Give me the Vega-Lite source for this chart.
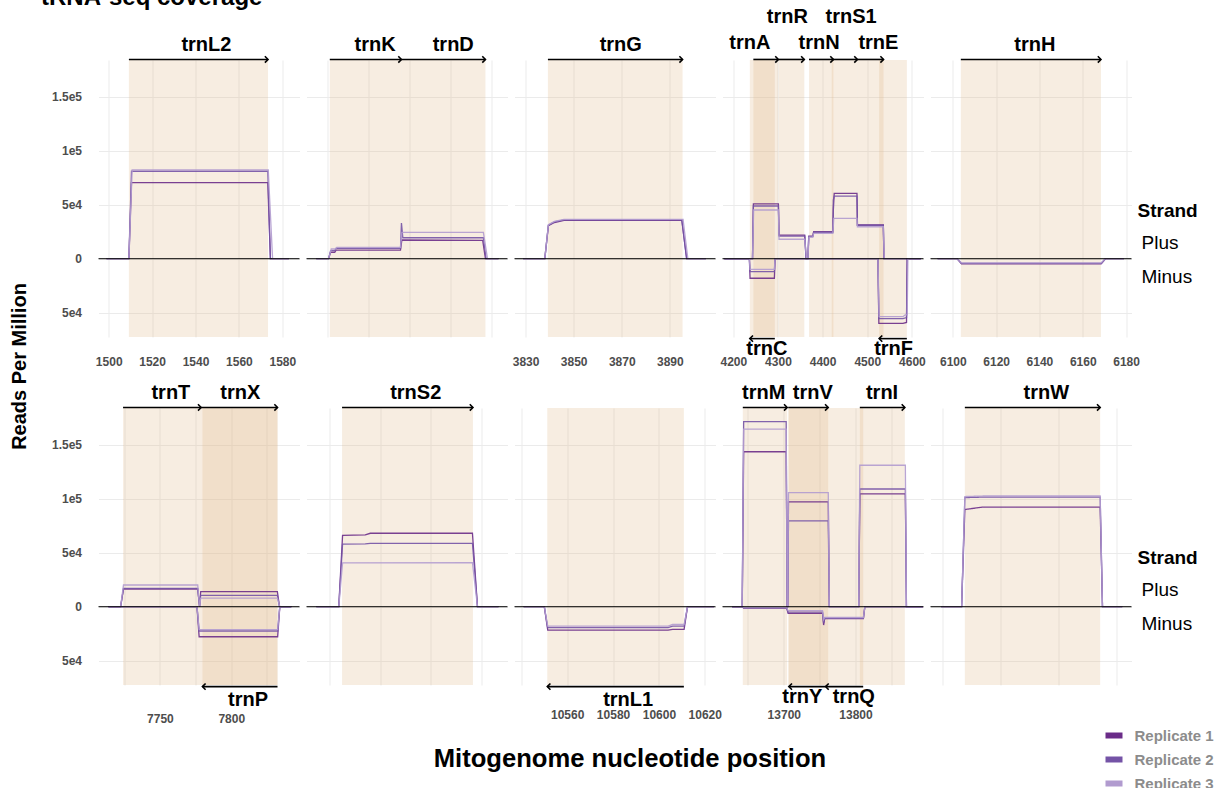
{
"$schema": "https://vega.github.io/schema/vega-lite/v6.json",
"padding": {"left": 8.5, "top": -14, "right": 2, "bottom": 0},
"title": {"text": "tRNA-seq coverage", "anchor": "start", "fontSize": 24, "fontWeight": "bold", "font": "Liberation Sans", "color": "black", "offset": -3, "dx": 32},
"config": {
 "font": "Liberation Sans",
 "view": {"stroke": null},
 "axis": {"grid": true, "gridColor": "#ebebeb", "gridWidth": 1, "ticks": false, "tickSize": 0, "domain": false, "labelFontSize": 12, "labelFontWeight": "bold", "labelColor": "#4d4d4d", "labelFont": "Liberation Sans", "labelOverlap": false, "labelFlush": false}
},
"datasets": {
"genes": [
{"p":1,"gene":"trnL2","start":1509.3,"end":1573.4,"strand":"+","tier":1,"lx":1545},
{"p":2,"gene":"trnK","start":2236.9,"end":2289.2,"strand":"+","tier":1,"lx":2270},
{"p":2,"gene":"trnD","start":2289.2,"end":2350.5,"strand":"+","tier":1,"lx":2327},
{"p":3,"gene":"trnG","start":3839.3,"end":3895.3,"strand":"+","tier":1,"lx":3869.6},
{"p":4,"gene":"trnA","start":4244.9,"end":4301,"strand":"+","tier":1,"lx":4237},
{"p":4,"gene":"trnR","start":4302,"end":4359,"strand":"+","tier":2,"lx":4321},
{"p":4,"gene":"trnN","start":4369.6,"end":4424.3,"strand":"+","tier":1,"lx":4392},
{"p":4,"gene":"trnS1","start":4420.5,"end":4478,"strand":"+","tier":2,"lx":4464},
{"p":4,"gene":"trnE","start":4478,"end":4536.5,"strand":"+","tier":1,"lx":4525},
{"p":4,"gene":"trnC","start":4237,"end":4293,"strand":"-","tier":1,"lx":4275},
{"p":4,"gene":"trnF","start":4526.6,"end":4588.7,"strand":"-","tier":1,"lx":4559},
{"p":5,"gene":"trnH","start":6103.7,"end":6168.4,"strand":"+","tier":1,"lx":6137.9},
{"p":6,"gene":"trnT","start":7724.2,"end":7778.9,"strand":"+","tier":1,"lx":7757.7},
{"p":6,"gene":"trnX","start":7778.9,"end":7832.4,"strand":"+","tier":1,"lx":7806.3},
{"p":6,"gene":"trnP","start":7779.8,"end":7832.4,"strand":"-","tier":1,"lx":7811.8},
{"p":7,"gene":"trnS2","start":9414.8,"end":9466.7,"strand":"+","tier":1,"lx":9444},
{"p":8,"gene":"trnL1","start":10551.3,"end":10610.9,"strand":"-","tier":1,"lx":10586.6},
{"p":9,"gene":"trnM","start":13642.8,"end":13704.7,"strand":"+","tier":1,"lx":13672},
{"p":9,"gene":"trnV","start":13706.1,"end":13761.9,"strand":"+","tier":1,"lx":13740.4},
{"p":9,"gene":"trnI","start":13806,"end":13868.8,"strand":"+","tier":1,"lx":13837},
{"p":9,"gene":"trnY","start":13707,"end":13758.2,"strand":"-","tier":1,"lx":13725.7},
{"p":9,"gene":"trnQ","start":13758.2,"end":13810.7,"strand":"-","tier":1,"lx":13797.6},
{"p":10,"gene":"trnW","start":14822.2,"end":14880.5,"strand":"+","tier":1,"lx":14857.3}
],
"cov": [
{"p":1,"rep":"Replicate 1","str":"Plus","pos":1499,"rpm":0},{"p":1,"rep":"Replicate 1","str":"Plus","pos":1509.3,"rpm":0},{"p":1,"rep":"Replicate 1","str":"Plus","pos":1510.5,"rpm":70400},{"p":1,"rep":"Replicate 1","str":"Plus","pos":1573.3,"rpm":70400},{"p":1,"rep":"Replicate 1","str":"Plus","pos":1574.5,"rpm":0},{"p":1,"rep":"Replicate 1","str":"Plus","pos":1583,"rpm":0},
{"p":1,"rep":"Replicate 2","str":"Plus","pos":1499,"rpm":0},{"p":1,"rep":"Replicate 2","str":"Plus","pos":1509.3,"rpm":0},{"p":1,"rep":"Replicate 2","str":"Plus","pos":1510.5,"rpm":81000},{"p":1,"rep":"Replicate 2","str":"Plus","pos":1573.3,"rpm":81000},{"p":1,"rep":"Replicate 2","str":"Plus","pos":1574.5,"rpm":0},{"p":1,"rep":"Replicate 2","str":"Plus","pos":1583,"rpm":0},
{"p":1,"rep":"Replicate 3","str":"Plus","pos":1499,"rpm":0},{"p":1,"rep":"Replicate 3","str":"Plus","pos":1509.3,"rpm":0},{"p":1,"rep":"Replicate 3","str":"Plus","pos":1510.8,"rpm":82200},{"p":1,"rep":"Replicate 3","str":"Plus","pos":1573.5,"rpm":82200},{"p":1,"rep":"Replicate 3","str":"Plus","pos":1575.5,"rpm":0},{"p":1,"rep":"Replicate 3","str":"Plus","pos":1583,"rpm":0},

{"p":2,"rep":"Replicate 1","str":"Plus","pos":2227,"rpm":0},{"p":2,"rep":"Replicate 1","str":"Plus","pos":2236,"rpm":0},{"p":2,"rep":"Replicate 1","str":"Plus","pos":2237.5,"rpm":6000},{"p":2,"rep":"Replicate 1","str":"Plus","pos":2240.5,"rpm":6000},{"p":2,"rep":"Replicate 1","str":"Plus","pos":2241.5,"rpm":8000},{"p":2,"rep":"Replicate 1","str":"Plus","pos":2288.5,"rpm":8000},{"p":2,"rep":"Replicate 1","str":"Plus","pos":2289.5,"rpm":17300},{"p":2,"rep":"Replicate 1","str":"Plus","pos":2348.5,"rpm":17000},{"p":2,"rep":"Replicate 1","str":"Plus","pos":2350.5,"rpm":0},{"p":2,"rep":"Replicate 1","str":"Plus","pos":2360,"rpm":0},
{"p":2,"rep":"Replicate 2","str":"Plus","pos":2227,"rpm":0},{"p":2,"rep":"Replicate 2","str":"Plus","pos":2236,"rpm":0},{"p":2,"rep":"Replicate 2","str":"Plus","pos":2237.5,"rpm":7500},{"p":2,"rep":"Replicate 2","str":"Plus","pos":2240.5,"rpm":7500},{"p":2,"rep":"Replicate 2","str":"Plus","pos":2241.5,"rpm":9500},{"p":2,"rep":"Replicate 2","str":"Plus","pos":2288.5,"rpm":9500},{"p":2,"rep":"Replicate 2","str":"Plus","pos":2289.2,"rpm":33000},{"p":2,"rep":"Replicate 2","str":"Plus","pos":2290.2,"rpm":19400},{"p":2,"rep":"Replicate 2","str":"Plus","pos":2349,"rpm":19400},{"p":2,"rep":"Replicate 2","str":"Plus","pos":2351,"rpm":0},{"p":2,"rep":"Replicate 2","str":"Plus","pos":2360,"rpm":0},
{"p":2,"rep":"Replicate 3","str":"Plus","pos":2227,"rpm":0},{"p":2,"rep":"Replicate 3","str":"Plus","pos":2236,"rpm":0},{"p":2,"rep":"Replicate 3","str":"Plus","pos":2238,"rpm":9000},{"p":2,"rep":"Replicate 3","str":"Plus","pos":2241,"rpm":9000},{"p":2,"rep":"Replicate 3","str":"Plus","pos":2242,"rpm":10500},{"p":2,"rep":"Replicate 3","str":"Plus","pos":2288.5,"rpm":10500},{"p":2,"rep":"Replicate 3","str":"Plus","pos":2289.5,"rpm":24400},{"p":2,"rep":"Replicate 3","str":"Plus","pos":2349,"rpm":24400},{"p":2,"rep":"Replicate 3","str":"Plus","pos":2352,"rpm":0},{"p":2,"rep":"Replicate 3","str":"Plus","pos":2360,"rpm":0},

{"p":3,"rep":"Replicate 1","str":"Plus","pos":3829,"rpm":0},{"p":3,"rep":"Replicate 1","str":"Plus","pos":3838,"rpm":0},{"p":3,"rep":"Replicate 1","str":"Plus","pos":3839.5,"rpm":30500},{"p":3,"rep":"Replicate 1","str":"Plus","pos":3842,"rpm":33500},{"p":3,"rep":"Replicate 1","str":"Plus","pos":3846,"rpm":35500},{"p":3,"rep":"Replicate 1","str":"Plus","pos":3895,"rpm":35500},{"p":3,"rep":"Replicate 1","str":"Plus","pos":3897,"rpm":0},{"p":3,"rep":"Replicate 1","str":"Plus","pos":3905,"rpm":0},
{"p":3,"rep":"Replicate 2","str":"Plus","pos":3829,"rpm":0},{"p":3,"rep":"Replicate 2","str":"Plus","pos":3838,"rpm":0},{"p":3,"rep":"Replicate 2","str":"Plus","pos":3839.5,"rpm":31000},{"p":3,"rep":"Replicate 2","str":"Plus","pos":3842,"rpm":34000},{"p":3,"rep":"Replicate 2","str":"Plus","pos":3846,"rpm":36000},{"p":3,"rep":"Replicate 2","str":"Plus","pos":3895,"rpm":36000},{"p":3,"rep":"Replicate 2","str":"Plus","pos":3897,"rpm":0},{"p":3,"rep":"Replicate 2","str":"Plus","pos":3905,"rpm":0},
{"p":3,"rep":"Replicate 3","str":"Plus","pos":3829,"rpm":0},{"p":3,"rep":"Replicate 3","str":"Plus","pos":3838,"rpm":0},{"p":3,"rep":"Replicate 3","str":"Plus","pos":3839.5,"rpm":31500},{"p":3,"rep":"Replicate 3","str":"Plus","pos":3842,"rpm":34500},{"p":3,"rep":"Replicate 3","str":"Plus","pos":3846,"rpm":36400},{"p":3,"rep":"Replicate 3","str":"Plus","pos":3895.5,"rpm":36400},{"p":3,"rep":"Replicate 3","str":"Plus","pos":3897.5,"rpm":0},{"p":3,"rep":"Replicate 3","str":"Plus","pos":3905,"rpm":0},

{"p":4,"rep":"Replicate 1","str":"Plus","pos":4180,"rpm":0},{"p":4,"rep":"Replicate 1","str":"Plus","pos":4243,"rpm":0},{"p":4,"rep":"Replicate 1","str":"Plus","pos":4245,"rpm":50700},{"p":4,"rep":"Replicate 1","str":"Plus","pos":4301,"rpm":50700},{"p":4,"rep":"Replicate 1","str":"Plus","pos":4302.5,"rpm":21900},{"p":4,"rep":"Replicate 1","str":"Plus","pos":4360,"rpm":21900},{"p":4,"rep":"Replicate 1","str":"Plus","pos":4363,"rpm":0},{"p":4,"rep":"Replicate 1","str":"Plus","pos":4367,"rpm":0},{"p":4,"rep":"Replicate 1","str":"Plus","pos":4369,"rpm":21000},{"p":4,"rep":"Replicate 1","str":"Plus","pos":4378,"rpm":21000},{"p":4,"rep":"Replicate 1","str":"Plus","pos":4380,"rpm":25000},{"p":4,"rep":"Replicate 1","str":"Plus","pos":4423,"rpm":25000},{"p":4,"rep":"Replicate 1","str":"Plus","pos":4424,"rpm":45000},{"p":4,"rep":"Replicate 1","str":"Plus","pos":4426,"rpm":60500},{"p":4,"rep":"Replicate 1","str":"Plus","pos":4477,"rpm":60500},{"p":4,"rep":"Replicate 1","str":"Plus","pos":4478,"rpm":31200},{"p":4,"rep":"Replicate 1","str":"Plus","pos":4536,"rpm":31200},{"p":4,"rep":"Replicate 1","str":"Plus","pos":4537.5,"rpm":0},{"p":4,"rep":"Replicate 1","str":"Plus","pos":4620,"rpm":0},
{"p":4,"rep":"Replicate 2","str":"Plus","pos":4180,"rpm":0},{"p":4,"rep":"Replicate 2","str":"Plus","pos":4243,"rpm":0},{"p":4,"rep":"Replicate 2","str":"Plus","pos":4245,"rpm":48800},{"p":4,"rep":"Replicate 2","str":"Plus","pos":4301,"rpm":48800},{"p":4,"rep":"Replicate 2","str":"Plus","pos":4302.5,"rpm":21000},{"p":4,"rep":"Replicate 2","str":"Plus","pos":4360,"rpm":21000},{"p":4,"rep":"Replicate 2","str":"Plus","pos":4363,"rpm":0},{"p":4,"rep":"Replicate 2","str":"Plus","pos":4367,"rpm":0},{"p":4,"rep":"Replicate 2","str":"Plus","pos":4369,"rpm":20400},{"p":4,"rep":"Replicate 2","str":"Plus","pos":4378,"rpm":20400},{"p":4,"rep":"Replicate 2","str":"Plus","pos":4380,"rpm":24500},{"p":4,"rep":"Replicate 2","str":"Plus","pos":4423,"rpm":24500},{"p":4,"rep":"Replicate 2","str":"Plus","pos":4424,"rpm":54300},{"p":4,"rep":"Replicate 2","str":"Plus","pos":4426,"rpm":58000},{"p":4,"rep":"Replicate 2","str":"Plus","pos":4477,"rpm":58000},{"p":4,"rep":"Replicate 2","str":"Plus","pos":4478,"rpm":31000},{"p":4,"rep":"Replicate 2","str":"Plus","pos":4536,"rpm":31000},{"p":4,"rep":"Replicate 2","str":"Plus","pos":4537.5,"rpm":0},{"p":4,"rep":"Replicate 2","str":"Plus","pos":4620,"rpm":0},
{"p":4,"rep":"Replicate 3","str":"Plus","pos":4180,"rpm":0},{"p":4,"rep":"Replicate 3","str":"Plus","pos":4243,"rpm":0},{"p":4,"rep":"Replicate 3","str":"Plus","pos":4245.5,"rpm":45100},{"p":4,"rep":"Replicate 3","str":"Plus","pos":4301,"rpm":45100},{"p":4,"rep":"Replicate 3","str":"Plus","pos":4302.5,"rpm":18000},{"p":4,"rep":"Replicate 3","str":"Plus","pos":4360,"rpm":18000},{"p":4,"rep":"Replicate 3","str":"Plus","pos":4364,"rpm":0},{"p":4,"rep":"Replicate 3","str":"Plus","pos":4367,"rpm":0},{"p":4,"rep":"Replicate 3","str":"Plus","pos":4369.5,"rpm":20000},{"p":4,"rep":"Replicate 3","str":"Plus","pos":4378,"rpm":20000},{"p":4,"rep":"Replicate 3","str":"Plus","pos":4380,"rpm":23500},{"p":4,"rep":"Replicate 3","str":"Plus","pos":4423,"rpm":23500},{"p":4,"rep":"Replicate 3","str":"Plus","pos":4425,"rpm":37400},{"p":4,"rep":"Replicate 3","str":"Plus","pos":4477,"rpm":37400},{"p":4,"rep":"Replicate 3","str":"Plus","pos":4478,"rpm":29600},{"p":4,"rep":"Replicate 3","str":"Plus","pos":4536,"rpm":29600},{"p":4,"rep":"Replicate 3","str":"Plus","pos":4538,"rpm":0},{"p":4,"rep":"Replicate 3","str":"Plus","pos":4620,"rpm":0},
{"p":4,"rep":"Replicate 1","str":"Minus","pos":4180,"rpm":0},{"p":4,"rep":"Replicate 1","str":"Minus","pos":4236,"rpm":0},{"p":4,"rep":"Replicate 1","str":"Minus","pos":4237.5,"rpm":-18100},{"p":4,"rep":"Replicate 1","str":"Minus","pos":4292,"rpm":-18100},{"p":4,"rep":"Replicate 1","str":"Minus","pos":4293.5,"rpm":0},{"p":4,"rep":"Replicate 1","str":"Minus","pos":4524,"rpm":0},{"p":4,"rep":"Replicate 1","str":"Minus","pos":4526,"rpm":-59800},{"p":4,"rep":"Replicate 1","str":"Minus","pos":4580,"rpm":-59800},{"p":4,"rep":"Replicate 1","str":"Minus","pos":4588,"rpm":-59000},{"p":4,"rep":"Replicate 1","str":"Minus","pos":4589.5,"rpm":0},{"p":4,"rep":"Replicate 1","str":"Minus","pos":4620,"rpm":0},
{"p":4,"rep":"Replicate 2","str":"Minus","pos":4180,"rpm":0},{"p":4,"rep":"Replicate 2","str":"Minus","pos":4236,"rpm":0},{"p":4,"rep":"Replicate 2","str":"Minus","pos":4237.5,"rpm":-12000},{"p":4,"rep":"Replicate 2","str":"Minus","pos":4292,"rpm":-12000},{"p":4,"rep":"Replicate 2","str":"Minus","pos":4293.5,"rpm":0},{"p":4,"rep":"Replicate 2","str":"Minus","pos":4524,"rpm":0},{"p":4,"rep":"Replicate 2","str":"Minus","pos":4526,"rpm":-55500},{"p":4,"rep":"Replicate 2","str":"Minus","pos":4580,"rpm":-55500},{"p":4,"rep":"Replicate 2","str":"Minus","pos":4588,"rpm":-54500},{"p":4,"rep":"Replicate 2","str":"Minus","pos":4589.5,"rpm":0},{"p":4,"rep":"Replicate 2","str":"Minus","pos":4620,"rpm":0},
{"p":4,"rep":"Replicate 3","str":"Minus","pos":4180,"rpm":0},{"p":4,"rep":"Replicate 3","str":"Minus","pos":4236,"rpm":0},{"p":4,"rep":"Replicate 3","str":"Minus","pos":4237.5,"rpm":-9800},{"p":4,"rep":"Replicate 3","str":"Minus","pos":4292,"rpm":-9800},{"p":4,"rep":"Replicate 3","str":"Minus","pos":4293.5,"rpm":0},{"p":4,"rep":"Replicate 3","str":"Minus","pos":4524,"rpm":0},{"p":4,"rep":"Replicate 3","str":"Minus","pos":4526.5,"rpm":-53700},{"p":4,"rep":"Replicate 3","str":"Minus","pos":4580,"rpm":-53700},{"p":4,"rep":"Replicate 3","str":"Minus","pos":4585,"rpm":-52000},{"p":4,"rep":"Replicate 3","str":"Minus","pos":4589.5,"rpm":-52000},{"p":4,"rep":"Replicate 3","str":"Minus","pos":4591,"rpm":0},{"p":4,"rep":"Replicate 3","str":"Minus","pos":4620,"rpm":0},

{"p":5,"rep":"Replicate 1","str":"Minus","pos":6093,"rpm":0},{"p":5,"rep":"Replicate 1","str":"Minus","pos":6102,"rpm":0},{"p":5,"rep":"Replicate 1","str":"Minus","pos":6104,"rpm":-4800},{"p":5,"rep":"Replicate 1","str":"Minus","pos":6168.5,"rpm":-4800},{"p":5,"rep":"Replicate 1","str":"Minus","pos":6170.5,"rpm":0},{"p":5,"rep":"Replicate 1","str":"Minus","pos":6179,"rpm":0},
{"p":5,"rep":"Replicate 2","str":"Minus","pos":6093,"rpm":0},{"p":5,"rep":"Replicate 2","str":"Minus","pos":6102,"rpm":0},{"p":5,"rep":"Replicate 2","str":"Minus","pos":6104,"rpm":-4300},{"p":5,"rep":"Replicate 2","str":"Minus","pos":6168.5,"rpm":-4300},{"p":5,"rep":"Replicate 2","str":"Minus","pos":6170.5,"rpm":0},{"p":5,"rep":"Replicate 2","str":"Minus","pos":6179,"rpm":0},
{"p":5,"rep":"Replicate 3","str":"Minus","pos":6093,"rpm":0},{"p":5,"rep":"Replicate 3","str":"Minus","pos":6102,"rpm":0},{"p":5,"rep":"Replicate 3","str":"Minus","pos":6104,"rpm":-3800},{"p":5,"rep":"Replicate 3","str":"Minus","pos":6168.5,"rpm":-3800},{"p":5,"rep":"Replicate 3","str":"Minus","pos":6170.5,"rpm":0},{"p":5,"rep":"Replicate 3","str":"Minus","pos":6179,"rpm":0},

{"p":6,"rep":"Replicate 1","str":"Plus","pos":7714,"rpm":0},{"p":6,"rep":"Replicate 1","str":"Plus","pos":7722.5,"rpm":0},{"p":6,"rep":"Replicate 1","str":"Plus","pos":7724.5,"rpm":16400},{"p":6,"rep":"Replicate 1","str":"Plus","pos":7776.5,"rpm":16400},{"p":6,"rep":"Replicate 1","str":"Plus","pos":7777.8,"rpm":0},{"p":6,"rep":"Replicate 1","str":"Plus","pos":7778.6,"rpm":13900},{"p":6,"rep":"Replicate 1","str":"Plus","pos":7832.3,"rpm":13900},{"p":6,"rep":"Replicate 1","str":"Plus","pos":7833.8,"rpm":0},{"p":6,"rep":"Replicate 1","str":"Plus","pos":7842,"rpm":0},
{"p":6,"rep":"Replicate 2","str":"Plus","pos":7714,"rpm":0},{"p":6,"rep":"Replicate 2","str":"Plus","pos":7722.5,"rpm":0},{"p":6,"rep":"Replicate 2","str":"Plus","pos":7724.5,"rpm":17000},{"p":6,"rep":"Replicate 2","str":"Plus","pos":7776.5,"rpm":17000},{"p":6,"rep":"Replicate 2","str":"Plus","pos":7777.8,"rpm":0},{"p":6,"rep":"Replicate 2","str":"Plus","pos":7778.6,"rpm":10500},{"p":6,"rep":"Replicate 2","str":"Plus","pos":7832.3,"rpm":10500},{"p":6,"rep":"Replicate 2","str":"Plus","pos":7833.8,"rpm":0},{"p":6,"rep":"Replicate 2","str":"Plus","pos":7842,"rpm":0},
{"p":6,"rep":"Replicate 3","str":"Plus","pos":7714,"rpm":0},{"p":6,"rep":"Replicate 3","str":"Plus","pos":7722.5,"rpm":0},{"p":6,"rep":"Replicate 3","str":"Plus","pos":7724.5,"rpm":20100},{"p":6,"rep":"Replicate 3","str":"Plus","pos":7776.5,"rpm":20100},{"p":6,"rep":"Replicate 3","str":"Plus","pos":7777.8,"rpm":0},{"p":6,"rep":"Replicate 3","str":"Plus","pos":7778.6,"rpm":8000},{"p":6,"rep":"Replicate 3","str":"Plus","pos":7832.3,"rpm":8000},{"p":6,"rep":"Replicate 3","str":"Plus","pos":7834,"rpm":0},{"p":6,"rep":"Replicate 3","str":"Plus","pos":7842,"rpm":0},
{"p":6,"rep":"Replicate 1","str":"Minus","pos":7714,"rpm":0},{"p":6,"rep":"Replicate 1","str":"Minus","pos":7776,"rpm":0},{"p":6,"rep":"Replicate 1","str":"Minus","pos":7777.5,"rpm":-27800},{"p":6,"rep":"Replicate 1","str":"Minus","pos":7832.5,"rpm":-27800},{"p":6,"rep":"Replicate 1","str":"Minus","pos":7834,"rpm":0},{"p":6,"rep":"Replicate 1","str":"Minus","pos":7842,"rpm":0},
{"p":6,"rep":"Replicate 2","str":"Minus","pos":7714,"rpm":0},{"p":6,"rep":"Replicate 2","str":"Minus","pos":7776,"rpm":0},{"p":6,"rep":"Replicate 2","str":"Minus","pos":7777.5,"rpm":-22500},{"p":6,"rep":"Replicate 2","str":"Minus","pos":7832.5,"rpm":-22500},{"p":6,"rep":"Replicate 2","str":"Minus","pos":7834,"rpm":0},{"p":6,"rep":"Replicate 2","str":"Minus","pos":7842,"rpm":0},
{"p":6,"rep":"Replicate 3","str":"Minus","pos":7714,"rpm":0},{"p":6,"rep":"Replicate 3","str":"Minus","pos":7776,"rpm":0},{"p":6,"rep":"Replicate 3","str":"Minus","pos":7777.5,"rpm":-21300},{"p":6,"rep":"Replicate 3","str":"Minus","pos":7832.5,"rpm":-21300},{"p":6,"rep":"Replicate 3","str":"Minus","pos":7834,"rpm":0},{"p":6,"rep":"Replicate 3","str":"Minus","pos":7842,"rpm":0},

{"p":7,"rep":"Replicate 1","str":"Plus","pos":9404.6,"rpm":0},{"p":7,"rep":"Replicate 1","str":"Plus","pos":9413.5,"rpm":0},{"p":7,"rep":"Replicate 1","str":"Plus","pos":9415,"rpm":66000},{"p":7,"rep":"Replicate 1","str":"Plus","pos":9424,"rpm":66500},{"p":7,"rep":"Replicate 1","str":"Plus","pos":9426,"rpm":68000},{"p":7,"rep":"Replicate 1","str":"Plus","pos":9466.5,"rpm":68000},{"p":7,"rep":"Replicate 1","str":"Plus","pos":9468.5,"rpm":0},{"p":7,"rep":"Replicate 1","str":"Plus","pos":9476.8,"rpm":0},
{"p":7,"rep":"Replicate 2","str":"Plus","pos":9404.6,"rpm":0},{"p":7,"rep":"Replicate 2","str":"Plus","pos":9413.5,"rpm":0},{"p":7,"rep":"Replicate 2","str":"Plus","pos":9415,"rpm":58000},{"p":7,"rep":"Replicate 2","str":"Plus","pos":9424,"rpm":58200},{"p":7,"rep":"Replicate 2","str":"Plus","pos":9426,"rpm":58700},{"p":7,"rep":"Replicate 2","str":"Plus","pos":9466.5,"rpm":58700},{"p":7,"rep":"Replicate 2","str":"Plus","pos":9468.5,"rpm":0},{"p":7,"rep":"Replicate 2","str":"Plus","pos":9476.8,"rpm":0},
{"p":7,"rep":"Replicate 3","str":"Plus","pos":9404.6,"rpm":0},{"p":7,"rep":"Replicate 3","str":"Plus","pos":9413.5,"rpm":0},{"p":7,"rep":"Replicate 3","str":"Plus","pos":9415,"rpm":40500},{"p":7,"rep":"Replicate 3","str":"Plus","pos":9466.5,"rpm":40700},{"p":7,"rep":"Replicate 3","str":"Plus","pos":9468.5,"rpm":0},{"p":7,"rep":"Replicate 3","str":"Plus","pos":9476.8,"rpm":0},

{"p":8,"rep":"Replicate 1","str":"Minus","pos":10541,"rpm":0},{"p":8,"rep":"Replicate 1","str":"Minus","pos":10550,"rpm":0},{"p":8,"rep":"Replicate 1","str":"Minus","pos":10551.5,"rpm":-21600},{"p":8,"rep":"Replicate 1","str":"Minus","pos":10604,"rpm":-21600},{"p":8,"rep":"Replicate 1","str":"Minus","pos":10606,"rpm":-21000},{"p":8,"rep":"Replicate 1","str":"Minus","pos":10611,"rpm":-21000},{"p":8,"rep":"Replicate 1","str":"Minus","pos":10612.5,"rpm":0},{"p":8,"rep":"Replicate 1","str":"Minus","pos":10624,"rpm":0},
{"p":8,"rep":"Replicate 2","str":"Minus","pos":10541,"rpm":0},{"p":8,"rep":"Replicate 2","str":"Minus","pos":10550,"rpm":0},{"p":8,"rep":"Replicate 2","str":"Minus","pos":10551.5,"rpm":-19400},{"p":8,"rep":"Replicate 2","str":"Minus","pos":10604,"rpm":-19400},{"p":8,"rep":"Replicate 2","str":"Minus","pos":10606,"rpm":-18000},{"p":8,"rep":"Replicate 2","str":"Minus","pos":10611,"rpm":-18000},{"p":8,"rep":"Replicate 2","str":"Minus","pos":10612.5,"rpm":0},{"p":8,"rep":"Replicate 2","str":"Minus","pos":10624,"rpm":0},
{"p":8,"rep":"Replicate 3","str":"Minus","pos":10541,"rpm":0},{"p":8,"rep":"Replicate 3","str":"Minus","pos":10550,"rpm":0},{"p":8,"rep":"Replicate 3","str":"Minus","pos":10551.5,"rpm":-17900},{"p":8,"rep":"Replicate 3","str":"Minus","pos":10604,"rpm":-17900},{"p":8,"rep":"Replicate 3","str":"Minus","pos":10606,"rpm":-16500},{"p":8,"rep":"Replicate 3","str":"Minus","pos":10611,"rpm":-16500},{"p":8,"rep":"Replicate 3","str":"Minus","pos":10612.5,"rpm":0},{"p":8,"rep":"Replicate 3","str":"Minus","pos":10624,"rpm":0},

{"p":9,"rep":"Replicate 1","str":"Plus","pos":13628,"rpm":0},{"p":9,"rep":"Replicate 1","str":"Plus","pos":13642,"rpm":0},{"p":9,"rep":"Replicate 1","str":"Plus","pos":13644,"rpm":143500},{"p":9,"rep":"Replicate 1","str":"Plus","pos":13703.3,"rpm":143500},{"p":9,"rep":"Replicate 1","str":"Plus","pos":13704.7,"rpm":0},{"p":9,"rep":"Replicate 1","str":"Plus","pos":13705.5,"rpm":0},{"p":9,"rep":"Replicate 1","str":"Plus","pos":13706.5,"rpm":97000},{"p":9,"rep":"Replicate 1","str":"Plus","pos":13762,"rpm":97000},{"p":9,"rep":"Replicate 1","str":"Plus","pos":13763.5,"rpm":0},{"p":9,"rep":"Replicate 1","str":"Plus","pos":13804.5,"rpm":0},{"p":9,"rep":"Replicate 1","str":"Plus","pos":13806,"rpm":104400},{"p":9,"rep":"Replicate 1","str":"Plus","pos":13869.5,"rpm":104400},{"p":9,"rep":"Replicate 1","str":"Plus","pos":13871,"rpm":0},{"p":9,"rep":"Replicate 1","str":"Plus","pos":13894,"rpm":0},
{"p":9,"rep":"Replicate 2","str":"Plus","pos":13628,"rpm":0},{"p":9,"rep":"Replicate 2","str":"Plus","pos":13642,"rpm":0},{"p":9,"rep":"Replicate 2","str":"Plus","pos":13644,"rpm":171300},{"p":9,"rep":"Replicate 2","str":"Plus","pos":13703.3,"rpm":171300},{"p":9,"rep":"Replicate 2","str":"Plus","pos":13704.7,"rpm":0},{"p":9,"rep":"Replicate 2","str":"Plus","pos":13705.5,"rpm":0},{"p":9,"rep":"Replicate 2","str":"Plus","pos":13706.5,"rpm":79400},{"p":9,"rep":"Replicate 2","str":"Plus","pos":13762,"rpm":79400},{"p":9,"rep":"Replicate 2","str":"Plus","pos":13763.5,"rpm":0},{"p":9,"rep":"Replicate 2","str":"Plus","pos":13804.5,"rpm":0},{"p":9,"rep":"Replicate 2","str":"Plus","pos":13806,"rpm":109000},{"p":9,"rep":"Replicate 2","str":"Plus","pos":13869.5,"rpm":109000},{"p":9,"rep":"Replicate 2","str":"Plus","pos":13871,"rpm":0},{"p":9,"rep":"Replicate 2","str":"Plus","pos":13894,"rpm":0},
{"p":9,"rep":"Replicate 3","str":"Plus","pos":13628,"rpm":0},{"p":9,"rep":"Replicate 3","str":"Plus","pos":13642,"rpm":0},{"p":9,"rep":"Replicate 3","str":"Plus","pos":13644,"rpm":164500},{"p":9,"rep":"Replicate 3","str":"Plus","pos":13703.3,"rpm":164500},{"p":9,"rep":"Replicate 3","str":"Plus","pos":13704.7,"rpm":0},{"p":9,"rep":"Replicate 3","str":"Plus","pos":13705.5,"rpm":0},{"p":9,"rep":"Replicate 3","str":"Plus","pos":13706.5,"rpm":105600},{"p":9,"rep":"Replicate 3","str":"Plus","pos":13762,"rpm":105600},{"p":9,"rep":"Replicate 3","str":"Plus","pos":13763.5,"rpm":0},{"p":9,"rep":"Replicate 3","str":"Plus","pos":13804.5,"rpm":0},{"p":9,"rep":"Replicate 3","str":"Plus","pos":13806,"rpm":131000},{"p":9,"rep":"Replicate 3","str":"Plus","pos":13869.5,"rpm":131000},{"p":9,"rep":"Replicate 3","str":"Plus","pos":13871,"rpm":0},{"p":9,"rep":"Replicate 3","str":"Plus","pos":13894,"rpm":0},
{"p":9,"rep":"Replicate 1","str":"Minus","pos":13628,"rpm":0},{"p":9,"rep":"Replicate 1","str":"Minus","pos":13642,"rpm":0},{"p":9,"rep":"Replicate 1","str":"Minus","pos":13644,"rpm":-1200},{"p":9,"rep":"Replicate 1","str":"Minus","pos":13704,"rpm":-1200},{"p":9,"rep":"Replicate 1","str":"Minus","pos":13706,"rpm":-6100},{"p":9,"rep":"Replicate 1","str":"Minus","pos":13754,"rpm":-6100},{"p":9,"rep":"Replicate 1","str":"Minus","pos":13755.5,"rpm":-17000},{"p":9,"rep":"Replicate 1","str":"Minus","pos":13757,"rpm":-11000},{"p":9,"rep":"Replicate 1","str":"Minus","pos":13811,"rpm":-11000},{"p":9,"rep":"Replicate 1","str":"Minus","pos":13813,"rpm":0},{"p":9,"rep":"Replicate 1","str":"Minus","pos":13894,"rpm":0},
{"p":9,"rep":"Replicate 2","str":"Minus","pos":13628,"rpm":0},{"p":9,"rep":"Replicate 2","str":"Minus","pos":13642,"rpm":0},{"p":9,"rep":"Replicate 2","str":"Minus","pos":13644,"rpm":-1000},{"p":9,"rep":"Replicate 2","str":"Minus","pos":13704,"rpm":-1000},{"p":9,"rep":"Replicate 2","str":"Minus","pos":13706,"rpm":-5000},{"p":9,"rep":"Replicate 2","str":"Minus","pos":13754,"rpm":-5000},{"p":9,"rep":"Replicate 2","str":"Minus","pos":13755.5,"rpm":-15000},{"p":9,"rep":"Replicate 2","str":"Minus","pos":13757,"rpm":-10700},{"p":9,"rep":"Replicate 2","str":"Minus","pos":13811,"rpm":-10700},{"p":9,"rep":"Replicate 2","str":"Minus","pos":13813,"rpm":0},{"p":9,"rep":"Replicate 2","str":"Minus","pos":13894,"rpm":0},
{"p":9,"rep":"Replicate 3","str":"Minus","pos":13628,"rpm":0},{"p":9,"rep":"Replicate 3","str":"Minus","pos":13642,"rpm":0},{"p":9,"rep":"Replicate 3","str":"Minus","pos":13644,"rpm":-800},{"p":9,"rep":"Replicate 3","str":"Minus","pos":13704,"rpm":-800},{"p":9,"rep":"Replicate 3","str":"Minus","pos":13706,"rpm":-3700},{"p":9,"rep":"Replicate 3","str":"Minus","pos":13754,"rpm":-3700},{"p":9,"rep":"Replicate 3","str":"Minus","pos":13755.5,"rpm":-12000},{"p":9,"rep":"Replicate 3","str":"Minus","pos":13757,"rpm":-10000},{"p":9,"rep":"Replicate 3","str":"Minus","pos":13811,"rpm":-10000},{"p":9,"rep":"Replicate 3","str":"Minus","pos":13813,"rpm":0},{"p":9,"rep":"Replicate 3","str":"Minus","pos":13894,"rpm":0},

{"p":10,"rep":"Replicate 1","str":"Plus","pos":14812,"rpm":0},{"p":10,"rep":"Replicate 1","str":"Plus","pos":14820.8,"rpm":0},{"p":10,"rep":"Replicate 1","str":"Plus","pos":14822.2,"rpm":90000},{"p":10,"rep":"Replicate 1","str":"Plus","pos":14830,"rpm":92300},{"p":10,"rep":"Replicate 1","str":"Plus","pos":14880.5,"rpm":92300},{"p":10,"rep":"Replicate 1","str":"Plus","pos":14881.5,"rpm":0},{"p":10,"rep":"Replicate 1","str":"Plus","pos":14890,"rpm":0},
{"p":10,"rep":"Replicate 2","str":"Plus","pos":14812,"rpm":0},{"p":10,"rep":"Replicate 2","str":"Plus","pos":14820.8,"rpm":0},{"p":10,"rep":"Replicate 2","str":"Plus","pos":14822.2,"rpm":101000},{"p":10,"rep":"Replicate 2","str":"Plus","pos":14830,"rpm":101500},{"p":10,"rep":"Replicate 2","str":"Plus","pos":14880.5,"rpm":101500},{"p":10,"rep":"Replicate 2","str":"Plus","pos":14881.5,"rpm":0},{"p":10,"rep":"Replicate 2","str":"Plus","pos":14890,"rpm":0},
{"p":10,"rep":"Replicate 3","str":"Plus","pos":14812,"rpm":0},{"p":10,"rep":"Replicate 3","str":"Plus","pos":14820.8,"rpm":0},{"p":10,"rep":"Replicate 3","str":"Plus","pos":14822.2,"rpm":102000},{"p":10,"rep":"Replicate 3","str":"Plus","pos":14830,"rpm":102500},{"p":10,"rep":"Replicate 3","str":"Plus","pos":14880.5,"rpm":102500},{"p":10,"rep":"Replicate 3","str":"Plus","pos":14881.5,"rpm":0},{"p":10,"rep":"Replicate 3","str":"Plus","pos":14890,"rpm":0}
]
},
"columns": 5,
"bounds": "flush",
"spacing": {"row": 71, "column": 7},
"resolve": {"scale": {"x": "independent", "y": "independent", "color": "independent", "strokeDash": "independent"}},
"concat": [
{"width": 201, "height": 277, "layer": [
 {"data": {"name": "genes"}, "transform": [{"filter": "datum.p == 1"}], "mark": {"type": "rect", "color": "#deb887", "opacity": 0.25},
  "encoding": {"x": {"field": "start", "type": "quantitative", "title": null, "scale": {"domain": [1495.3, 1587.9], "nice": false, "zero": false}, "axis": {"values": [1500,1510,1520,1530,1540,1550,1560,1570,1580], "format": "d", "labelExpr": "datum.value % 20 == 0 ? datum.label : ''", "labelPadding": 19, "title": null}}, "x2": {"field": "end"}}},
 {"data": {"name": "cov"}, "transform": [{"filter": "datum.p == 1"}], "mark": {"type": "line", "strokeWidth": 1.3, "opacity": 0.9},
  "encoding": {"x": {"field": "pos", "type": "quantitative", "title": null}, "y": {"field": "rpm", "type": "quantitative", "title": null, "scale": {"domain": [-72500, 184000], "nice": false, "zero": false}, "axis": {"values": [-50000,-25000,0,25000,50000,75000,100000,125000,150000,175000], "labelExpr": "datum.value == 150000 ? '1.5e5' : datum.value == 100000 ? '1e5' : (datum.value == 50000 || datum.value == -50000) ? '5e4' : datum.value == 0 ? '0' : ''", "labelPadding": 17, "title": "Reads Per Million", "titleFontSize": 20, "titleFontWeight": "bold", "titleColor": "black", "titleX": -73.5, "titleY": 306, "titleAngle": -90, "titleAlign": "center", "titleBaseline": "alphabetic"}},
   "color": {"field": "rep", "type": "nominal", "scale": {"domain": ["Replicate 1","Replicate 2","Replicate 3"], "range": ["#6a2c88","#7453a6","#b19bcf"]}, "legend": null}, "detail": {"field": "str"}}},
 {"data": {"values": [{}]}, "mark": {"type": "rule", "color": "black", "strokeWidth": 1}, "encoding": {"y": {"datum": 0, "type": "quantitative"}}},
 {"data": {"name": "genes"}, "transform": [{"filter": "datum.p == 1 && datum.strand == '+'"}], "mark": {"type": "rule", "color": "black", "strokeWidth": 1.6}, "encoding": {"x": {"field": "start", "type": "quantitative"}, "x2": {"field": "end"}, "y": {"datum": 184500, "type": "quantitative"}}},
 {"data": {"name": "genes"}, "transform": [{"filter": "datum.p == 1 && datum.strand == '+'"}], "mark": {"type": "point", "shape": "M-1,-1L0,0L-1,1", "size": 40, "filled": false, "stroke": "black", "strokeWidth": 1.6, "opacity": 1}, "encoding": {"x": {"field": "end", "type": "quantitative"}, "y": {"datum": 184500, "type": "quantitative"}}},
 {"data": {"name": "genes"}, "transform": [{"filter": "datum.p == 1 && datum.strand == '+' && datum.tier == 1"}], "mark": {"type": "text", "fontSize": 20, "fontWeight": "bold", "color": "black", "baseline": "middle"}, "encoding": {"x": {"field": "lx", "type": "quantitative"}, "y": {"datum": 198000, "type": "quantitative"}, "text": {"field": "gene"}}}
]},
{"width": 201, "height": 277, "layer": [
 {"data": {"name": "genes"}, "transform": [{"filter": "datum.p == 2"}], "mark": {"type": "rect", "color": "#deb887", "opacity": 0.25},
  "encoding": {"x": {"field": "start", "type": "quantitative", "title": null, "scale": {"domain": [2219.9, 2366.6], "nice": false, "zero": false}, "axis": {"values": [2235,2250,2265,2280,2295,2310,2325,2340,2355], "format": "d", "labelExpr": "(datum.value - 2250) % 30 == 0 ? datum.label : ''", "labelPadding": 19, "title": null}}, "x2": {"field": "end"}}},
 {"data": {"name": "cov"}, "transform": [{"filter": "datum.p == 2"}], "mark": {"type": "line", "strokeWidth": 1.3, "opacity": 0.9},
  "encoding": {"x": {"field": "pos", "type": "quantitative", "title": null}, "y": {"field": "rpm", "type": "quantitative", "title": null, "scale": {"domain": [-72500, 184000], "nice": false, "zero": false}, "axis": {"values": [-50000,-25000,0,25000,50000,75000,100000,125000,150000,175000], "labels": false, "title": null}},
   "color": {"field": "rep", "type": "nominal", "scale": {"domain": ["Replicate 1","Replicate 2","Replicate 3"], "range": ["#6a2c88","#7453a6","#b19bcf"]}, "legend": null}, "detail": {"field": "str"}}},
 {"data": {"values": [{}]}, "mark": {"type": "rule", "color": "black", "strokeWidth": 1}, "encoding": {"y": {"datum": 0, "type": "quantitative"}}},
 {"data": {"name": "genes"}, "transform": [{"filter": "datum.p == 2 && datum.strand == '+'"}], "mark": {"type": "rule", "color": "black", "strokeWidth": 1.6}, "encoding": {"x": {"field": "start", "type": "quantitative"}, "x2": {"field": "end"}, "y": {"datum": 184500, "type": "quantitative"}}},
 {"data": {"name": "genes"}, "transform": [{"filter": "datum.p == 2 && datum.strand == '+'"}], "mark": {"type": "point", "shape": "M-1,-1L0,0L-1,1", "size": 40, "filled": false, "stroke": "black", "strokeWidth": 1.6, "opacity": 1}, "encoding": {"x": {"field": "end", "type": "quantitative"}, "y": {"datum": 184500, "type": "quantitative"}}},
 {"data": {"name": "genes"}, "transform": [{"filter": "datum.p == 2 && datum.strand == '+' && datum.tier == 1"}], "mark": {"type": "text", "fontSize": 20, "fontWeight": "bold", "color": "black", "baseline": "middle"}, "encoding": {"x": {"field": "lx", "type": "quantitative"}, "y": {"datum": 198000, "type": "quantitative"}, "text": {"field": "gene"}}}
]},
{"width": 201, "height": 277, "layer": [
 {"data": {"name": "genes"}, "transform": [{"filter": "datum.p == 3"}], "mark": {"type": "rect", "color": "#deb887", "opacity": 0.25},
  "encoding": {"x": {"field": "start", "type": "quantitative", "title": null, "scale": {"domain": [3825.4, 3909], "nice": false, "zero": false}, "axis": {"values": [3830,3840,3850,3860,3870,3880,3890,3900], "format": "d", "labelExpr": "(datum.value - 3830) % 20 == 0 ? datum.label : ''", "labelPadding": 19, "title": null}}, "x2": {"field": "end"}}},
 {"data": {"name": "cov"}, "transform": [{"filter": "datum.p == 3"}], "mark": {"type": "line", "strokeWidth": 1.3, "opacity": 0.9},
  "encoding": {"x": {"field": "pos", "type": "quantitative", "title": null}, "y": {"field": "rpm", "type": "quantitative", "title": null, "scale": {"domain": [-72500, 184000], "nice": false, "zero": false}, "axis": {"values": [-50000,-25000,0,25000,50000,75000,100000,125000,150000,175000], "labels": false, "title": null}},
   "color": {"field": "rep", "type": "nominal", "scale": {"domain": ["Replicate 1","Replicate 2","Replicate 3"], "range": ["#6a2c88","#7453a6","#b19bcf"]}, "legend": null}, "detail": {"field": "str"}}},
 {"data": {"values": [{}]}, "mark": {"type": "rule", "color": "black", "strokeWidth": 1}, "encoding": {"y": {"datum": 0, "type": "quantitative"}}},
 {"data": {"name": "genes"}, "transform": [{"filter": "datum.p == 3 && datum.strand == '+'"}], "mark": {"type": "rule", "color": "black", "strokeWidth": 1.6}, "encoding": {"x": {"field": "start", "type": "quantitative"}, "x2": {"field": "end"}, "y": {"datum": 184500, "type": "quantitative"}}},
 {"data": {"name": "genes"}, "transform": [{"filter": "datum.p == 3 && datum.strand == '+'"}], "mark": {"type": "point", "shape": "M-1,-1L0,0L-1,1", "size": 40, "filled": false, "stroke": "black", "strokeWidth": 1.6, "opacity": 1}, "encoding": {"x": {"field": "end", "type": "quantitative"}, "y": {"datum": 184500, "type": "quantitative"}}},
 {"data": {"name": "genes"}, "transform": [{"filter": "datum.p == 3 && datum.strand == '+' && datum.tier == 1"}], "mark": {"type": "text", "fontSize": 20, "fontWeight": "bold", "color": "black", "baseline": "middle"}, "encoding": {"x": {"field": "lx", "type": "quantitative"}, "y": {"datum": 198000, "type": "quantitative"}, "text": {"field": "gene"}}}
]},
{"width": 201, "height": 277, "layer": [
 {"data": {"name": "genes"}, "transform": [{"filter": "datum.p == 4"}], "mark": {"type": "rect", "color": "#deb887", "opacity": 0.25},
  "encoding": {"x": {"field": "start", "type": "quantitative", "title": null, "scale": {"domain": [4175.8, 4626], "nice": false, "zero": false}, "axis": {"values": [4200,4250,4300,4350,4400,4450,4500,4550,4600], "format": "d", "labelExpr": "datum.value % 100 == 0 ? datum.label : ''", "labelPadding": 19, "title": null}}, "x2": {"field": "end"}}},
 {"data": {"name": "cov"}, "transform": [{"filter": "datum.p == 4"}], "mark": {"type": "line", "strokeWidth": 1.3, "opacity": 0.9},
  "encoding": {"x": {"field": "pos", "type": "quantitative", "title": null}, "y": {"field": "rpm", "type": "quantitative", "title": null, "scale": {"domain": [-72500, 184000], "nice": false, "zero": false}, "axis": {"values": [-50000,-25000,0,25000,50000,75000,100000,125000,150000,175000], "labels": false, "title": null}},
   "color": {"field": "rep", "type": "nominal", "scale": {"domain": ["Replicate 1","Replicate 2","Replicate 3"], "range": ["#6a2c88","#7453a6","#b19bcf"]}, "legend": null}, "detail": {"field": "str"}}},
 {"data": {"values": [{}]}, "mark": {"type": "rule", "color": "black", "strokeWidth": 1}, "encoding": {"y": {"datum": 0, "type": "quantitative"}}},
 {"data": {"name": "genes"}, "transform": [{"filter": "datum.p == 4 && datum.strand == '+'"}], "mark": {"type": "rule", "color": "black", "strokeWidth": 1.6}, "encoding": {"x": {"field": "start", "type": "quantitative"}, "x2": {"field": "end"}, "y": {"datum": 184500, "type": "quantitative"}}},
 {"data": {"name": "genes"}, "transform": [{"filter": "datum.p == 4 && datum.strand == '+'"}], "mark": {"type": "point", "shape": "M-1,-1L0,0L-1,1", "size": 40, "filled": false, "stroke": "black", "strokeWidth": 1.6, "opacity": 1}, "encoding": {"x": {"field": "end", "type": "quantitative"}, "y": {"datum": 184500, "type": "quantitative"}}},
 {"data": {"name": "genes"}, "transform": [{"filter": "datum.p == 4 && datum.strand == '-'"}], "mark": {"type": "rule", "color": "black", "strokeWidth": 1.6}, "encoding": {"x": {"field": "start", "type": "quantitative"}, "x2": {"field": "end"}, "y": {"datum": -74000, "type": "quantitative"}}},
 {"data": {"name": "genes"}, "transform": [{"filter": "datum.p == 4 && datum.strand == '-'"}], "mark": {"type": "point", "shape": "M1,-1L0,0L1,1", "size": 40, "filled": false, "stroke": "black", "strokeWidth": 1.6, "opacity": 1}, "encoding": {"x": {"field": "start", "type": "quantitative"}, "y": {"datum": -74000, "type": "quantitative"}}},
 {"data": {"name": "genes"}, "transform": [{"filter": "datum.p == 4 && datum.strand == '+' && datum.tier == 1"}], "mark": {"type": "text", "fontSize": 20, "fontWeight": "bold", "color": "black", "baseline": "middle"}, "encoding": {"x": {"field": "lx", "type": "quantitative"}, "y": {"datum": 200000, "type": "quantitative"}, "text": {"field": "gene"}}},
 {"data": {"name": "genes"}, "transform": [{"filter": "datum.p == 4 && datum.strand == '+' && datum.tier == 2"}], "mark": {"type": "text", "fontSize": 20, "fontWeight": "bold", "color": "black", "baseline": "middle"}, "encoding": {"x": {"field": "lx", "type": "quantitative"}, "y": {"datum": 223500, "type": "quantitative"}, "text": {"field": "gene"}}},
 {"data": {"name": "genes"}, "transform": [{"filter": "datum.p == 4 && datum.strand == '-'"}], "mark": {"type": "text", "fontSize": 20, "fontWeight": "bold", "color": "black", "baseline": "middle"}, "encoding": {"x": {"field": "lx", "type": "quantitative"}, "y": {"datum": -83500, "type": "quantitative"}, "text": {"field": "gene"}}}
]},
{"width": 201, "height": 277, "layer": [
 {"data": {"name": "genes"}, "transform": [{"filter": "datum.p == 5"}], "mark": {"type": "rect", "color": "#deb887", "opacity": 0.25},
  "encoding": {"x": {"field": "start", "type": "quantitative", "title": null, "scale": {"domain": [6089.7, 6182.5], "nice": false, "zero": false}, "axis": {"values": [6100,6110,6120,6130,6140,6150,6160,6170,6180], "format": "d", "labelExpr": "datum.value % 20 == 0 ? datum.label : ''", "labelPadding": 19, "title": null}}, "x2": {"field": "end"}}},
 {"data": {"name": "cov"}, "transform": [{"filter": "datum.p == 5"}], "mark": {"type": "line", "strokeWidth": 1.3, "opacity": 0.9},
  "encoding": {"x": {"field": "pos", "type": "quantitative", "title": null}, "y": {"field": "rpm", "type": "quantitative", "title": null, "scale": {"domain": [-72500, 184000], "nice": false, "zero": false}, "axis": {"values": [-50000,-25000,0,25000,50000,75000,100000,125000,150000,175000], "labels": false, "title": null}},
   "color": {"field": "rep", "type": "nominal", "scale": {"domain": ["Replicate 1","Replicate 2","Replicate 3"], "range": ["#6a2c88","#7453a6","#b19bcf"]}, "legend": null}, "detail": {"field": "str"},
   "strokeDash": {"field": "str", "type": "nominal", "scale": {"domain": ["Plus","Minus"], "range": [[1,0],[1,0]]}, "legend": {"title": "Strand", "orient": "none", "legendX": 207, "legendY": 142, "titleFontSize": 19, "titleFontWeight": "bold", "titleColor": "black", "labelFontSize": 19, "labelColor": "black", "labelFontWeight": "normal", "symbolOpacity": 0, "symbolStrokeWidth": 0, "symbolSize": 0, "rowPadding": 14, "titlePadding": 12, "labelOffset": -15}}}},
 {"data": {"values": [{}]}, "mark": {"type": "rule", "color": "black", "strokeWidth": 1}, "encoding": {"y": {"datum": 0, "type": "quantitative"}}},
 {"data": {"name": "genes"}, "transform": [{"filter": "datum.p == 5 && datum.strand == '+'"}], "mark": {"type": "rule", "color": "black", "strokeWidth": 1.6}, "encoding": {"x": {"field": "start", "type": "quantitative"}, "x2": {"field": "end"}, "y": {"datum": 184500, "type": "quantitative"}}},
 {"data": {"name": "genes"}, "transform": [{"filter": "datum.p == 5 && datum.strand == '+'"}], "mark": {"type": "point", "shape": "M-1,-1L0,0L-1,1", "size": 40, "filled": false, "stroke": "black", "strokeWidth": 1.6, "opacity": 1}, "encoding": {"x": {"field": "end", "type": "quantitative"}, "y": {"datum": 184500, "type": "quantitative"}}},
 {"data": {"name": "genes"}, "transform": [{"filter": "datum.p == 5 && datum.strand == '+' && datum.tier == 1"}], "mark": {"type": "text", "fontSize": 20, "fontWeight": "bold", "color": "black", "baseline": "middle"}, "encoding": {"x": {"field": "lx", "type": "quantitative"}, "y": {"datum": 198000, "type": "quantitative"}, "text": {"field": "gene"}}}
]},
{"width": 201, "height": 277, "layer": [
 {"data": {"name": "genes"}, "transform": [{"filter": "datum.p == 6"}], "mark": {"type": "rect", "color": "#deb887", "opacity": 0.25},
  "encoding": {"x": {"field": "start", "type": "quantitative", "title": null, "scale": {"domain": [7707, 7847.8], "nice": false, "zero": false}, "axis": {"values": [7725,7750,7775,7800,7825], "format": "d", "labelExpr": "datum.value % 50 == 0 ? datum.label : ''", "labelPadding": 28, "title": null}}, "x2": {"field": "end"}}},
 {"data": {"name": "cov"}, "transform": [{"filter": "datum.p == 6"}], "mark": {"type": "line", "strokeWidth": 1.3, "opacity": 0.9},
  "encoding": {"x": {"field": "pos", "type": "quantitative", "title": null}, "y": {"field": "rpm", "type": "quantitative", "title": null, "scale": {"domain": [-72500, 184000], "nice": false, "zero": false}, "axis": {"values": [-50000,-25000,0,25000,50000,75000,100000,125000,150000,175000], "labelExpr": "datum.value == 150000 ? '1.5e5' : datum.value == 100000 ? '1e5' : (datum.value == 50000 || datum.value == -50000) ? '5e4' : datum.value == 0 ? '0' : ''", "labelPadding": 17, "title": null}},
   "color": {"field": "rep", "type": "nominal", "scale": {"domain": ["Replicate 1","Replicate 2","Replicate 3"], "range": ["#6a2c88","#7453a6","#b19bcf"]}, "legend": null}, "detail": {"field": "str"}}},
 {"data": {"values": [{}]}, "mark": {"type": "rule", "color": "black", "strokeWidth": 1}, "encoding": {"y": {"datum": 0, "type": "quantitative"}}},
 {"data": {"name": "genes"}, "transform": [{"filter": "datum.p == 6 && datum.strand == '+'"}], "mark": {"type": "rule", "color": "black", "strokeWidth": 1.6}, "encoding": {"x": {"field": "start", "type": "quantitative"}, "x2": {"field": "end"}, "y": {"datum": 184500, "type": "quantitative"}}},
 {"data": {"name": "genes"}, "transform": [{"filter": "datum.p == 6 && datum.strand == '+'"}], "mark": {"type": "point", "shape": "M-1,-1L0,0L-1,1", "size": 40, "filled": false, "stroke": "black", "strokeWidth": 1.6, "opacity": 1}, "encoding": {"x": {"field": "end", "type": "quantitative"}, "y": {"datum": 184500, "type": "quantitative"}}},
 {"data": {"name": "genes"}, "transform": [{"filter": "datum.p == 6 && datum.strand == '-'"}], "mark": {"type": "rule", "color": "black", "strokeWidth": 1.6}, "encoding": {"x": {"field": "start", "type": "quantitative"}, "x2": {"field": "end"}, "y": {"datum": -74000, "type": "quantitative"}}},
 {"data": {"name": "genes"}, "transform": [{"filter": "datum.p == 6 && datum.strand == '-'"}], "mark": {"type": "point", "shape": "M1,-1L0,0L1,1", "size": 40, "filled": false, "stroke": "black", "strokeWidth": 1.6, "opacity": 1}, "encoding": {"x": {"field": "start", "type": "quantitative"}, "y": {"datum": -74000, "type": "quantitative"}}},
 {"data": {"name": "genes"}, "transform": [{"filter": "datum.p == 6 && datum.strand == '+' && datum.tier == 1"}], "mark": {"type": "text", "fontSize": 20, "fontWeight": "bold", "color": "black", "baseline": "middle"}, "encoding": {"x": {"field": "lx", "type": "quantitative"}, "y": {"datum": 198000, "type": "quantitative"}, "text": {"field": "gene"}}},
 {"data": {"name": "genes"}, "transform": [{"filter": "datum.p == 6 && datum.strand == '-'"}], "mark": {"type": "text", "fontSize": 20, "fontWeight": "bold", "color": "black", "baseline": "middle"}, "encoding": {"x": {"field": "lx", "type": "quantitative"}, "y": {"datum": -86000, "type": "quantitative"}, "text": {"field": "gene"}}}
]},
{"width": 201, "height": 277, "layer": [
 {"data": {"name": "genes"}, "transform": [{"filter": "datum.p == 7"}], "mark": {"type": "rect", "color": "#deb887", "opacity": 0.25},
  "encoding": {"x": {"field": "start", "type": "quantitative", "title": null, "scale": {"domain": [9400.7, 9480.4], "nice": false, "zero": false}, "axis": {"values": [9410,9420,9430,9440,9450,9460,9470,9480], "format": "d", "labelExpr": "datum.value % 20 == 0 ? datum.label : ''", "labelPadding": 24, "title": null}}, "x2": {"field": "end"}}},
 {"data": {"name": "cov"}, "transform": [{"filter": "datum.p == 7"}], "mark": {"type": "line", "strokeWidth": 1.3, "opacity": 0.9},
  "encoding": {"x": {"field": "pos", "type": "quantitative", "title": null}, "y": {"field": "rpm", "type": "quantitative", "title": null, "scale": {"domain": [-72500, 184000], "nice": false, "zero": false}, "axis": {"values": [-50000,-25000,0,25000,50000,75000,100000,125000,150000,175000], "labels": false, "title": null}},
   "color": {"field": "rep", "type": "nominal", "scale": {"domain": ["Replicate 1","Replicate 2","Replicate 3"], "range": ["#6a2c88","#7453a6","#b19bcf"]}, "legend": null}, "detail": {"field": "str"}}},
 {"data": {"values": [{}]}, "mark": {"type": "rule", "color": "black", "strokeWidth": 1}, "encoding": {"y": {"datum": 0, "type": "quantitative"}}},
 {"data": {"name": "genes"}, "transform": [{"filter": "datum.p == 7 && datum.strand == '+'"}], "mark": {"type": "rule", "color": "black", "strokeWidth": 1.6}, "encoding": {"x": {"field": "start", "type": "quantitative"}, "x2": {"field": "end"}, "y": {"datum": 184500, "type": "quantitative"}}},
 {"data": {"name": "genes"}, "transform": [{"filter": "datum.p == 7 && datum.strand == '+'"}], "mark": {"type": "point", "shape": "M-1,-1L0,0L-1,1", "size": 40, "filled": false, "stroke": "black", "strokeWidth": 1.6, "opacity": 1}, "encoding": {"x": {"field": "end", "type": "quantitative"}, "y": {"datum": 184500, "type": "quantitative"}}},
 {"data": {"name": "genes"}, "transform": [{"filter": "datum.p == 7 && datum.strand == '+' && datum.tier == 1"}], "mark": {"type": "text", "fontSize": 20, "fontWeight": "bold", "color": "black", "baseline": "middle"}, "encoding": {"x": {"field": "lx", "type": "quantitative"}, "y": {"datum": 198000, "type": "quantitative"}, "text": {"field": "gene"}}}
]},
{"width": 201, "height": 277, "layer": [
 {"data": {"name": "genes"}, "transform": [{"filter": "datum.p == 8"}], "mark": {"type": "rect", "color": "#deb887", "opacity": 0.25},
  "encoding": {"x": {"field": "start", "type": "quantitative", "title": "Mitogenome nucleotide position", "scale": {"domain": [10537, 10624.7], "nice": false, "zero": false}, "axis": {"values": [10540,10550,10560,10570,10580,10590,10600,10610,10620], "format": "d", "labelExpr": "datum.value >= 10560 && datum.value % 20 == 0 ? datum.label : ''", "labelPadding": 24, "title": "Mitogenome nucleotide position", "titleFontSize": 25.6, "titleFontWeight": "bold", "titleColor": "black", "titleX": 115, "titleY": 73, "titleBaseline": "middle", "titleAlign": "center"}}, "x2": {"field": "end"}}},
 {"data": {"name": "cov"}, "transform": [{"filter": "datum.p == 8"}], "mark": {"type": "line", "strokeWidth": 1.3, "opacity": 0.9},
  "encoding": {"x": {"field": "pos", "type": "quantitative", "title": "Mitogenome nucleotide position"}, "y": {"field": "rpm", "type": "quantitative", "title": null, "scale": {"domain": [-72500, 184000], "nice": false, "zero": false}, "axis": {"values": [-50000,-25000,0,25000,50000,75000,100000,125000,150000,175000], "labels": false, "title": null}},
   "color": {"field": "rep", "type": "nominal", "scale": {"domain": ["Replicate 1","Replicate 2","Replicate 3"], "range": ["#6a2c88","#7453a6","#b19bcf"]}, "legend": null}, "detail": {"field": "str"}}},
 {"data": {"values": [{}]}, "mark": {"type": "rule", "color": "black", "strokeWidth": 1}, "encoding": {"y": {"datum": 0, "type": "quantitative"}}},
 {"data": {"name": "genes"}, "transform": [{"filter": "datum.p == 8 && datum.strand == '-'"}], "mark": {"type": "rule", "color": "black", "strokeWidth": 1.6}, "encoding": {"x": {"field": "start", "type": "quantitative", "title": "Mitogenome nucleotide position"}, "x2": {"field": "end"}, "y": {"datum": -74000, "type": "quantitative"}}},
 {"data": {"name": "genes"}, "transform": [{"filter": "datum.p == 8 && datum.strand == '-'"}], "mark": {"type": "point", "shape": "M1,-1L0,0L1,1", "size": 40, "filled": false, "stroke": "black", "strokeWidth": 1.6, "opacity": 1}, "encoding": {"x": {"field": "start", "type": "quantitative", "title": "Mitogenome nucleotide position"}, "y": {"datum": -74000, "type": "quantitative"}}},
 {"data": {"name": "genes"}, "transform": [{"filter": "datum.p == 8 && datum.strand == '-'"}], "mark": {"type": "text", "fontSize": 20, "fontWeight": "bold", "color": "black", "baseline": "middle"}, "encoding": {"x": {"field": "lx", "type": "quantitative", "title": "Mitogenome nucleotide position"}, "y": {"datum": -86000, "type": "quantitative"}, "text": {"field": "gene"}}}
]},
{"width": 201, "height": 277, "layer": [
 {"data": {"name": "genes"}, "transform": [{"filter": "datum.p == 9"}], "mark": {"type": "rect", "color": "#deb887", "opacity": 0.25},
  "encoding": {"x": {"field": "start", "type": "quantitative", "title": null, "scale": {"domain": [13614.5, 13894.8], "nice": false, "zero": false}, "axis": {"values": [13650,13700,13750,13800,13850], "format": "d", "labelExpr": "datum.value % 100 == 0 ? datum.label : ''", "labelPadding": 24, "title": null}}, "x2": {"field": "end"}}},
 {"data": {"name": "cov"}, "transform": [{"filter": "datum.p == 9"}], "mark": {"type": "line", "strokeWidth": 1.3, "opacity": 0.9},
  "encoding": {"x": {"field": "pos", "type": "quantitative", "title": null}, "y": {"field": "rpm", "type": "quantitative", "title": null, "scale": {"domain": [-72500, 184000], "nice": false, "zero": false}, "axis": {"values": [-50000,-25000,0,25000,50000,75000,100000,125000,150000,175000], "labels": false, "title": null}},
   "color": {"field": "rep", "type": "nominal", "scale": {"domain": ["Replicate 1","Replicate 2","Replicate 3"], "range": ["#6a2c88","#7453a6","#b19bcf"]}, "legend": null}, "detail": {"field": "str"}}},
 {"data": {"values": [{}]}, "mark": {"type": "rule", "color": "black", "strokeWidth": 1}, "encoding": {"y": {"datum": 0, "type": "quantitative"}}},
 {"data": {"name": "genes"}, "transform": [{"filter": "datum.p == 9 && datum.strand == '+'"}], "mark": {"type": "rule", "color": "black", "strokeWidth": 1.6}, "encoding": {"x": {"field": "start", "type": "quantitative"}, "x2": {"field": "end"}, "y": {"datum": 184500, "type": "quantitative"}}},
 {"data": {"name": "genes"}, "transform": [{"filter": "datum.p == 9 && datum.strand == '+'"}], "mark": {"type": "point", "shape": "M-1,-1L0,0L-1,1", "size": 40, "filled": false, "stroke": "black", "strokeWidth": 1.6, "opacity": 1}, "encoding": {"x": {"field": "end", "type": "quantitative"}, "y": {"datum": 184500, "type": "quantitative"}}},
 {"data": {"name": "genes"}, "transform": [{"filter": "datum.p == 9 && datum.strand == '-'"}], "mark": {"type": "rule", "color": "black", "strokeWidth": 1.6}, "encoding": {"x": {"field": "start", "type": "quantitative"}, "x2": {"field": "end"}, "y": {"datum": -74000, "type": "quantitative"}}},
 {"data": {"name": "genes"}, "transform": [{"filter": "datum.p == 9 && datum.strand == '-'"}], "mark": {"type": "point", "shape": "M1,-1L0,0L1,1", "size": 40, "filled": false, "stroke": "black", "strokeWidth": 1.6, "opacity": 1}, "encoding": {"x": {"field": "start", "type": "quantitative"}, "y": {"datum": -74000, "type": "quantitative"}}},
 {"data": {"name": "genes"}, "transform": [{"filter": "datum.p == 9 && datum.strand == '+' && datum.tier == 1"}], "mark": {"type": "text", "fontSize": 20, "fontWeight": "bold", "color": "black", "baseline": "middle"}, "encoding": {"x": {"field": "lx", "type": "quantitative"}, "y": {"datum": 198000, "type": "quantitative"}, "text": {"field": "gene"}}},
 {"data": {"name": "genes"}, "transform": [{"filter": "datum.p == 9 && datum.strand == '-'"}], "mark": {"type": "text", "fontSize": 20, "fontWeight": "bold", "color": "black", "baseline": "middle"}, "encoding": {"x": {"field": "lx", "type": "quantitative"}, "y": {"datum": -83500, "type": "quantitative"}, "text": {"field": "gene"}}}
]},
{"width": 201, "height": 277, "layer": [
 {"data": {"name": "genes"}, "transform": [{"filter": "datum.p == 10"}], "mark": {"type": "rect", "color": "#deb887", "opacity": 0.25},
  "encoding": {"x": {"field": "start", "type": "quantitative", "title": null, "scale": {"domain": [14807.4, 14894], "nice": false, "zero": false}, "axis": {"values": [14812.5,14825,14837.5,14850,14862.5,14875,14887.5], "format": "d", "labelExpr": "datum.value % 25 == 0 ? datum.label : ''", "labelPadding": 24, "title": null}}, "x2": {"field": "end"}}},
 {"data": {"name": "cov"}, "transform": [{"filter": "datum.p == 10"}], "mark": {"type": "line", "strokeWidth": 1.3, "opacity": 0.9},
  "encoding": {"x": {"field": "pos", "type": "quantitative", "title": null}, "y": {"field": "rpm", "type": "quantitative", "title": null, "scale": {"domain": [-72500, 184000], "nice": false, "zero": false}, "axis": {"values": [-50000,-25000,0,25000,50000,75000,100000,125000,150000,175000], "labels": false, "title": null}},
   "color": {"field": "rep", "type": "nominal", "scale": {"domain": ["Replicate 1","Replicate 2","Replicate 3"], "range": ["#6a2c88","#7453a6","#b19bcf"]}, "legend": {"title": null, "orient": "none", "legendX": 172, "legendY": 316, "symbolType": "M-1,0H1", "symbolSize": 289, "symbolStrokeWidth": 6, "symbolOpacity": 1, "labelFontSize": 15, "labelFontWeight": "bold", "labelColor": "#8c8c8c", "rowPadding": -1.5, "labelOffset": 9}}, "detail": {"field": "str"},
   "strokeDash": {"field": "str", "type": "nominal", "scale": {"domain": ["Plus","Minus"], "range": [[1,0],[1,0]]}, "legend": {"title": "Strand", "orient": "none", "legendX": 207, "legendY": 141, "titleFontSize": 19, "titleFontWeight": "bold", "titleColor": "black", "labelFontSize": 19, "labelColor": "black", "labelFontWeight": "normal", "symbolOpacity": 0, "symbolStrokeWidth": 0, "symbolSize": 0, "rowPadding": 14, "titlePadding": 12, "labelOffset": -15}}}},
 {"data": {"values": [{}]}, "mark": {"type": "rule", "color": "black", "strokeWidth": 1}, "encoding": {"y": {"datum": 0, "type": "quantitative"}}},
 {"data": {"name": "genes"}, "transform": [{"filter": "datum.p == 10 && datum.strand == '+'"}], "mark": {"type": "rule", "color": "black", "strokeWidth": 1.6}, "encoding": {"x": {"field": "start", "type": "quantitative"}, "x2": {"field": "end"}, "y": {"datum": 184500, "type": "quantitative"}}},
 {"data": {"name": "genes"}, "transform": [{"filter": "datum.p == 10 && datum.strand == '+'"}], "mark": {"type": "point", "shape": "M-1,-1L0,0L-1,1", "size": 40, "filled": false, "stroke": "black", "strokeWidth": 1.6, "opacity": 1}, "encoding": {"x": {"field": "end", "type": "quantitative"}, "y": {"datum": 184500, "type": "quantitative"}}},
 {"data": {"name": "genes"}, "transform": [{"filter": "datum.p == 10 && datum.strand == '+' && datum.tier == 1"}], "mark": {"type": "text", "fontSize": 20, "fontWeight": "bold", "color": "black", "baseline": "middle"}, "encoding": {"x": {"field": "lx", "type": "quantitative"}, "y": {"datum": 198000, "type": "quantitative"}, "text": {"field": "gene"}}}
]}
]
}
